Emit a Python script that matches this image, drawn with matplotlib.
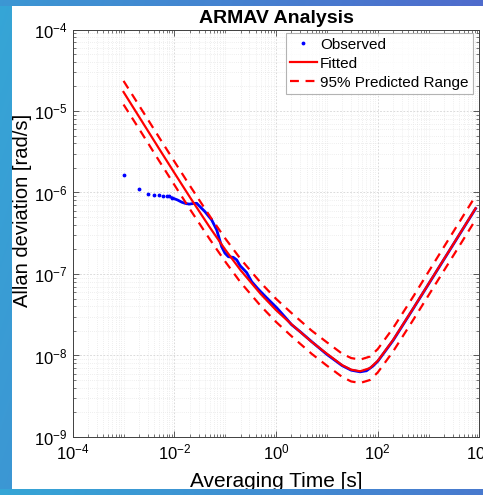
# -*- coding: utf-8 -*-

import numpy as np
import matplotlib
matplotlib.use("Agg")
import matplotlib.pyplot as plt
from matplotlib.lines import Line2D
from matplotlib.ticker import LogLocator, LogFormatterSciNotation, NullFormatter

plt.rcParams["font.family"] = ["Liberation Sans", "DejaVu Sans"]
plt.rcParams["mathtext.fontset"] = "custom"
plt.rcParams["mathtext.rm"] = "Liberation Sans"
plt.rcParams["mathtext.default"] = "regular"

# observed Allan deviation (sparse start, then dense)
obs_tau_sparse = [1e-3, 2e-3, 3e-3, 4e-3, 5e-3, 6e-3, 7e-3, 8e-3, 9e-3]
obs_sig_sparse = [1.64e-6, 1.1e-6, 9.5e-7, 9.25e-7, 9.2e-7, 9.15e-7, 9.1e-7, 8.95e-7, 8.6e-7]

obs_tau = [9e-3, 0.0115, 0.014, 0.0161, 0.0196, 0.024, 0.0275, 0.0319, 0.040, 0.0542,
           0.068, 0.0851, 0.0989, 0.115, 0.144, 0.168, 0.195, 0.264, 0.331, 0.447,
           0.653, 1.03, 1.62, 2.0, 3.0, 5.0, 10.0, 20.0, 30.0, 45.0, 60.0, 80.0,
           100.0, 200.0, 500.0, 1000.0, 2000.0, 5000.0, 8400.0]
obs_sig = [8.6e-7, 8.1e-7, 7.6e-7, 7.37e-7, 7.2e-7, 7.35e-7, 7.37e-7, 6.7e-7, 5.81e-7, 4.6e-7,
           3.47e-7, 2.16e-7, 1.8e-7, 1.63e-7, 1.6e-7, 1.49e-7, 1.27e-7, 1.04e-7, 8.05e-8, 6.5e-8,
           5.1e-8, 3.85e-8, 2.8e-8, 2.4e-8, 1.95e-8, 1.48e-8, 1.03e-8, 7.5e-9, 6.6e-9, 6.3e-9, 6.5e-9, 7.4e-9,
           8.5e-9, 1.53e-8, 3.78e-8, 7.55e-8, 1.51e-7, 3.78e-7, 6.35e-7]

# fitted curve and 95% range
fit_tau = [1e-3, 2e-3, 5e-3, 1e-2, 2e-2, 5e-2, 0.1, 0.2, 0.5, 1.0, 2.0, 5.0,
           10.0, 20.0, 30.0, 45.0, 70.0, 100.0, 200.0, 500.0, 1000.0, 2000.0, 5000.0, 8400.0]
fit_sig = [1.71e-5, 8.58e-6, 3.45e-6, 1.74e-6, 8.84e-7, 3.71e-7, 1.99e-7, 1.115e-7, 5.67e-8, 3.6e-8,
           2.42e-8, 1.47e-8, 1.05e-8, 7.6e-9, 6.7e-9, 6.4e-9, 7.0e-9, 8.6e-9, 1.55e-8, 3.8e-8,
           7.6e-8, 1.52e-7, 3.8e-7, 6.4e-7]
upper_sig = [2.34e-5, 1.18e-5, 4.75e-6, 2.4e-6, 1.22e-6, 5.1e-7, 2.73e-7, 1.53e-7, 7.8e-8, 4.95e-8,
             3.33e-8, 2.02e-8, 1.45e-8, 1.05e-8, 9.3e-9, 8.9e-9, 9.7e-9, 1.2e-8, 2.17e-8, 5.3e-8,
             1.07e-7, 2.15e-7, 5.4e-7, 9.1e-7]
lower_sig = [1.2e-5, 6.1e-6, 2.45e-6, 1.24e-6, 6.3e-7, 2.65e-7, 1.42e-7, 7.9e-8, 4.05e-8, 2.58e-8,
             1.73e-8, 1.05e-8, 7.5e-9, 5.45e-9, 4.8e-9, 4.6e-9, 5.0e-9, 6.2e-9, 1.12e-8, 2.75e-8,
             5.5e-8, 1.1e-7, 2.75e-7, 4.65e-7]


def draw_frame(fig):
    # blue slide border (left, top, bottom strips) drawn over the figure
    W, H = 483.0, 495.0
    gx = np.linspace(0, 1, 256)
    gy = np.linspace(0, 1, 256)
    X, Y = np.meshgrid(gx, gy)
    c0 = np.array([0.21, 0.65, 0.84])
    c1 = np.array([0.31, 0.42, 0.80])
    t = np.clip(0.75 * X + 0.25 * Y, 0, 1)[..., None]
    img = c0 * (1 - t) + c1 * t
    strips = [(0, 0, 12 / W, 1), (0, 1 - 6 / H, 1, 6 / H), (0, 0, 1, 6 / H)]
    for x0, y0, w, h in strips:
        sa = fig.add_axes([x0, y0, w, h], zorder=20)
        sa.imshow(img, extent=[0, 1, 0, 1], aspect="auto")
        sa.set_xlim(x0, x0 + w)
        sa.set_ylim(1 - (y0 + h), 1 - y0)
        sa.axis("off")


def plot_allan(file_name):
    fig = plt.figure(figsize=(4.83, 4.95), dpi=100)
    fig.patch.set_facecolor("white")

    ax = fig.add_axes([0.1505, 0.1172, 0.8422, 0.8232])
    ax.set_facecolor("white")

    ax.loglog(obs_tau_sparse, obs_sig_sparse, ".", color="blue", markersize=3.5)
    ax.loglog(obs_tau, obs_sig, "-", color="blue", linewidth=2.0)
    ax.loglog(fit_tau, fit_sig, "-", color="red", linewidth=1.6)
    ax.loglog(fit_tau, upper_sig, "--", color="red", linewidth=1.6, dashes=(4, 3))
    ax.loglog(fit_tau, lower_sig, "--", color="red", linewidth=1.6, dashes=(4, 3))

    ax.set_xlim(1e-4, 1e4)
    ax.set_ylim(1e-9, 1e-4)
    ax.xaxis.set_major_formatter(LogFormatterSciNotation())
    ax.set_xticks([1e-4, 1e-2, 1e0, 1e2, 1e4])
    ax.xaxis.set_minor_locator(LogLocator(base=10, subs=np.arange(1, 10), numticks=40))
    ax.xaxis.set_minor_formatter(NullFormatter())
    ax.set_yticks([1e-9, 1e-8, 1e-7, 1e-6, 1e-5, 1e-4])
    ax.yaxis.set_minor_locator(LogLocator(base=10, subs=np.arange(1, 10), numticks=40))
    ax.yaxis.set_minor_formatter(NullFormatter())

    ax.grid(True, which="major", color="#d4d4d4", linestyle=(0, (2, 2)), linewidth=0.6)
    ax.grid(True, which="minor", color="#e0e0e0", linestyle=(0, (1, 2)), linewidth=0.5)
    ax.set_axisbelow(True)
    ax.tick_params(which="both", direction="in", top=True, right=True,
                   color="#404040", labelsize=12, pad=4)
    ax.tick_params(which="major", length=4, width=0.6)
    ax.tick_params(which="minor", length=2, width=0.5)
    for s in ax.spines.values():
        s.set_color("#404040")
        s.set_linewidth(0.7)

    ax.set_title("ARMAV Analysis", fontsize=14, fontweight="bold", pad=5)
    ax.set_xlabel("Averaging Time [s]", fontsize=15)
    ax.xaxis.set_label_coords(0.5, -0.087)
    ax.set_ylabel("Allan deviation [rad/s]", fontsize=14.5)
    ax.yaxis.set_label_coords(-0.1, 0.557)

    handles = [Line2D([], [], color="blue", marker=".", linestyle="none", markersize=3.5),
               Line2D([], [], color="red", linewidth=1.6),
               Line2D([], [], color="red", linewidth=1.6, linestyle="--", dashes=(4, 3))]
    leg = ax.legend(handles, ["Observed", "Fitted", "95% Predicted Range"],
                    loc="upper right", bbox_to_anchor=(0.984, 0.991), borderaxespad=0,
                    fontsize=11, frameon=True, fancybox=False,
                    handlelength=1.75, handletextpad=0.2,
                    labelspacing=0.33, borderpad=0.3)
    leg.get_frame().set_edgecolor("#a0a0a0")
    leg.get_frame().set_linewidth(0.8)

    draw_frame(fig)
    plt.savefig(file_name, dpi=100)


if __name__ == "__main__":
    plot_allan("out.png")
